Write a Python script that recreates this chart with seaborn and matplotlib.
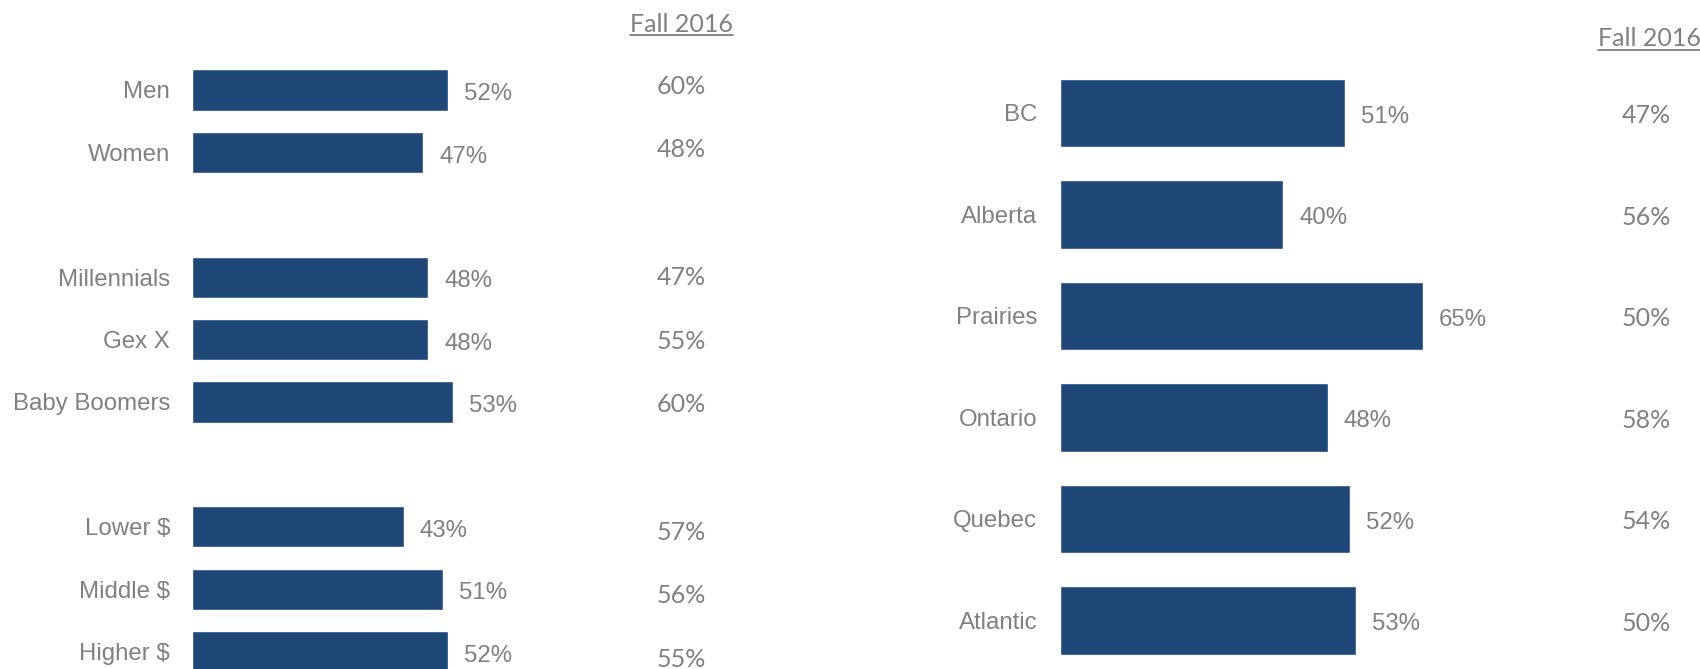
import matplotlib
matplotlib.use("Agg")
import matplotlib.pyplot as plt
import seaborn as sns
import pandas as pd
from matplotlib.lines import Line2D

# ---- data ----
demo_categories = ["Men", "Women", "Millennials", "Gex X", "Baby Boomers",
                   "Lower $", "Middle $", "Higher $"]
demo_values = [52, 47, 48, 48, 53, 43, 51, 52]
demo_fall2016 = [60, 48, 47, 55, 60, 57, 56, 55]
demo_order = ["Men", "Women", " ", "Millennials", "Gex X", "Baby Boomers",
              "  ", "Lower $", "Middle $", "Higher $"]

region_categories = ["BC", "Alberta", "Prairies", "Ontario", "Quebec", "Atlantic"]
region_values = [51, 40, 65, 48, 52, 53]
region_fall2016 = [47, 56, 50, 58, 54, 50]

header_label = "Fall 2016"

# ---- style ----
BAR = "#1F4878"
GRAY = "#808080"
W, H = 1700, 669

sns.set_theme(style="white")
plt.rcParams["font.family"] = ["Liberation Sans", "DejaVu Sans"]

fig = plt.figure(figsize=(W / 100, H / 100), dpi=100)
fig.patch.set_facecolor("white")

df_demo = pd.DataFrame({"cat": demo_categories, "val": demo_values})
df_reg = pd.DataFrame({"cat": region_categories, "val": region_values})

# axes rectangles (pixel based)
axL = fig.add_axes([192 / W, 0, (760 - 192) / W, 1])
axR = fig.add_axes([1060 / W, 0, (W - 1060) / W, 1])

sns.barplot(data=df_demo, x="val", y="cat", order=demo_order, orient="h",
            color=BAR, saturation=1, width=0.66, ax=axL, errorbar=None)
sns.barplot(data=df_reg, x="val", y="cat", order=region_categories, orient="h",
            color=BAR, saturation=1, width=0.675, ax=axR, errorbar=None)

axL.set_xlim(0, (760 - 192) / 4.921)
axL.set_ylim(9.279, -1.442)
axR.set_xlim(0, (W - 1060) / 5.58)
axR.set_ylim(5.480, -1.111)

for ax, pad in ((axL, 15.8), (axR, 16.4)):
    ax.set_xlabel("")
    ax.set_ylabel("")
    ax.set_xticks([])
    ax.tick_params(axis="y", length=0, pad=pad, labelsize=17.3, labelcolor=GRAY)
    for s in ax.spines.values():
        s.set_visible(False)
    ax.set_facecolor("none")
    for c in ax.containers:
        anns = ax.bar_label(c, labels=[f"{v:.0f}%" for v in c.datavalues],
                            padding=11.5, fontsize=17.3, color=GRAY)
        for a in anns:
            a.xyann = (a.xyann[0], a.xyann[1] - 3.0)

# Fall 2016 comparison column
cal = ["Lato", "DejaVu Sans"]
for cat, v in zip(demo_categories, demo_fall2016):
    y = demo_order.index(cat)
    axL.text(99.4, -0.06 + y * 1.021, f"{v}%", ha="center", va="center",
             fontsize=18, color=GRAY, family=cal, clip_on=False)
for i, v in enumerate(region_fall2016):
    axR.text(105.0, i + 0.03, f"{v}%", ha="center", va="center", fontsize=18,
             color=GRAY, family=cal, clip_on=False)

tL = fig.text(681 / W, 1 - 24 / H, header_label, ha="center", va="center",
              fontsize=18, color=GRAY, family=cal)
tR = fig.text(1598 / W, 1 - 39 / H, header_label, ha="left", va="center",
              fontsize=18, color=GRAY, family=cal)

fig.canvas.draw()
r = fig.canvas.get_renderer()
for t, uy in ((tL, 34.5), (tR, 49.5)):
    bb = t.get_window_extent(renderer=r)
    x0 = bb.x0 / W
    x1 = min(bb.x1 / W, 1.0)
    fig.add_artist(Line2D([x0, x1], [1 - uy / H, 1 - uy / H],
                          transform=fig.transFigure, color=GRAY, lw=1.3))

fig.savefig("out.png", dpi=100, facecolor="white")
